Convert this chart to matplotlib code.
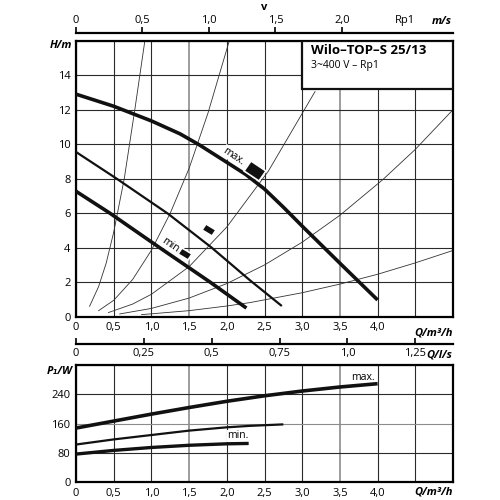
import numpy as np
import matplotlib
matplotlib.use("Agg")
import matplotlib.pyplot as plt
from matplotlib.patches import Rectangle
from matplotlib.markers import MarkerStyle
from matplotlib.transforms import Affine2D

plt.rcParams['font.family'] = ['Open Sans', 'DejaVu Sans']

# --- pump curves H(Q) ---
q_max = [0, 0.5, 1.0, 1.38, 1.64, 2.0, 2.25, 2.5, 2.75, 3.0, 3.5, 4.0]
h_max = [12.9, 12.2, 11.35, 10.6, 9.95, 8.95, 8.25, 7.4, 6.35, 5.25, 3.1, 0.97]
q_mid = [0, 0.54, 1.22, 1.8, 2.31, 2.73]
h_mid = [9.55, 8.0, 5.97, 4.0, 2.1, 0.62]
q_min = [0, 0.45, 1.11, 1.78, 2.26]
h_min = [7.27, 6.0, 4.0, 2.0, 0.5]

# system curves (thin lines)
sys_q = [
    [0.18, 0.3, 0.4, 0.5, 0.64, 0.78, 0.91],
    [0.3, 0.5, 0.75, 1.0, 1.25, 1.5, 1.75, 2.03],
    [0.43, 0.75, 1.0, 1.5, 2.0, 2.55, 3.17],
    [0.58, 1.0, 1.5, 2.0, 2.5, 3.0, 3.5, 4.07, 4.5, 5.0],
    [0.87, 1.5, 2.0, 2.31, 3.0, 3.5, 4.0, 4.5, 5.0],
]
sys_h = [
    [0.6, 1.75, 3.1, 4.9, 8.0, 12.0, 15.9],
    [0.35, 0.95, 2.15, 3.85, 6.0, 8.6, 11.8, 15.95],
    [0.24, 0.73, 1.3, 2.9, 5.2, 8.43, 13.05],
    [0.16, 0.48, 1.08, 1.92, 3.0, 4.32, 5.88, 7.95, 9.7, 12.0],
    [0.12, 0.35, 0.62, 0.82, 1.39, 1.89, 2.46, 3.12, 3.84],
]

# operating point markers
mark_q = [2.38, 1.76, 1.45]
mark_h = [8.44, 5.04, 3.61]

# --- power curves P1(Q) ---
pq_max = [0, 0.5, 1.0, 1.5, 2.0, 2.5, 3.0, 3.5, 4.0]
p_max = [148, 167, 186, 204, 221, 236, 249, 260, 269]
pq_mid = [0, 0.5, 1.0, 1.5, 2.0, 2.31, 2.75]
p_mid = [103, 117, 129, 141, 150, 154, 158]
pq_min = [0, 0.5, 1.0, 1.5, 2.0, 2.29]
p_min = [77, 87, 95, 101, 105, 106]

# axis ticks
q_ticks = [0, 0.5, 1.0, 1.5, 2.0, 2.5, 3.0, 3.5, 4.0, 4.5, 5.0]
q_labels = ['0', '0,5', '1,0', '1,5', '2,0', '2,5', '3,0', '3,5', '4,0', '', '']
h_ticks = [0, 2, 4, 6, 8, 10, 12, 14, 16]
h_labels = ['0', '2', '4', '6', '8', '10', '12', '14', '']
p_ticks = [0, 80, 160, 240, 320]
p_labels = ['0', '80', '160', '240', '']
v_ticks = [0, 0.5, 1.0, 1.5, 2.0]
v_labels = ['0', '0,5', '1,0', '1,5', '2,0']
ls_ticks = [0, 0.25, 0.5, 0.75, 1.0, 1.25]
ls_labels = ['0', '0,25', '0,5', '0,75', '1,0', '1,25']

fig = plt.figure(figsize=(5, 5), dpi=100)
ax = fig.add_axes([0.152, 0.3666, 0.754, 0.552])
ax2 = fig.add_axes([0.152, 0.0354, 0.754, 0.2346])

grid_c = '#2a2a2a'
for a in (ax, ax2):
    a.set_xlim(0, 5)
    a.set_xticks(q_ticks)
    a.set_xticklabels(q_labels)
    a.grid(True, color=grid_c, lw=0.8)
    a.set_axisbelow(True)
    a.tick_params(length=0, labelsize=8, pad=4)
    for s in a.spines.values():
        s.set_linewidth(1.6)
    # the 1,5 and 3,5 lines print lighter in the original
    for i in (3, 7):
        a.get_xgridlines()[i].set_color('#8c8c8c')
        a.get_xgridlines()[i].set_linewidth(1.2)

# top chart
ax.set_ylim(0, 16)
ax.set_yticks(h_ticks)
ax.set_yticklabels(h_labels)
for qs, hs in zip(sys_q, sys_h):
    ax.plot(qs, hs, color='#333333', lw=0.6, zorder=2)
ax.plot(q_max, h_max, color='#111111', lw=2.6, solid_capstyle='butt', zorder=3)
ax.plot(q_mid, h_mid, color='#111111', lw=1.6, solid_capstyle='butt', zorder=3)
ax.plot(q_min, h_min, color='#111111', lw=2.6, solid_capstyle='butt', zorder=3)

sizes = [8.5, 5.5, 5.5]
for q, h, s in zip(mark_q, mark_h, sizes):
    m = MarkerStyle('s', transform=Affine2D().scale(1.5, 1.0).rotate_deg(-35))
    ax.plot(q, h, marker=m, ms=s, color='#111111', mec='white', mew=1.2, zorder=4)

ax.text(2.09, 9.31, 'max.', rotation=-34, ha='center', va='center', fontsize=7.5,
        bbox=dict(fc='white', ec='none', pad=0.5), zorder=2.5)
ax.text(1.26, 4.11, 'min.', rotation=-34, ha='center', va='center', fontsize=7.5,
        bbox=dict(fc='white', ec='none', pad=0.5), zorder=2.5)

ax.add_patch(Rectangle((3.0, 13.2), 2.0, 2.8, fc='white', ec='#111111', lw=1.6, zorder=5))
ax.text(3.12, 15.45, 'Wilo–TOP–S 25/13', fontsize=9.5, fontweight='bold', va='center', zorder=6)
ax.text(3.12, 14.55, '3~400 V – Rp1', fontsize=7.5, va='center', zorder=6)

ax.text(-0.05, 15.7, 'H/m', ha='right', va='center', fontsize=8, fontweight='bold', style='italic')
ax.text(5.0, -0.6, 'Q/m³/h', ha='right', va='top', fontsize=8, fontweight='bold', style='italic')

# velocity scale on top
secv = ax.secondary_xaxis(1.029, functions=(lambda q: q * 0.567, lambda v: v / 0.567))
secv.set_xticks(v_ticks)
secv.set_xticklabels(v_labels)
secv.tick_params(direction='out', length=4, width=1.2, labelsize=8, pad=1)
for s in secv.spines.values():
    s.set_linewidth(1.6)
fig.text(264 / 500, 1 - 7 / 500, 'v', ha='center', va='center', fontsize=8, fontweight='bold')
fig.text(405 / 500, 1 - 21 / 500, 'Rp1', ha='center', va='center', fontsize=8)
fig.text(452 / 500, 1 - 21 / 500, 'm/s', ha='right', va='center', fontsize=8,
         fontweight='bold', style='italic')

# l/s scale between the charts
secl = ax.secondary_xaxis(-0.099, functions=(lambda q: q / 3.6, lambda s: s * 3.6))
secl.set_xticks(ls_ticks)
secl.set_xticklabels(ls_labels)
secl.tick_params(direction='in', length=4, width=1.2, labelsize=8, pad=3)
for s in secl.spines.values():
    s.set_linewidth(1.6)
fig.text(452 / 500, 1 - 355 / 500, 'Q/l/s', ha='right', va='center', fontsize=8,
         fontweight='bold', style='italic')

# bottom chart
ax2.set_ylim(0, 320)
ax2.set_yticks(p_ticks)
ax2.set_yticklabels(p_labels)
ax2.get_ygridlines()[2].set_color('#8c8c8c')
ax2.plot(pq_max, p_max, color='#111111', lw=2.6, solid_capstyle='butt', zorder=3)
ax2.plot(pq_mid, p_mid, color='#111111', lw=1.6, solid_capstyle='butt', zorder=3)
ax2.plot(pq_min, p_min, color='#111111', lw=2.4, solid_capstyle='butt', zorder=3)
ax2.text(3.8, 285, 'max.', ha='center', va='center', fontsize=7.5,
         bbox=dict(fc='white', ec='none', pad=0.5), zorder=2.5)
ax2.text(2.15, 127, 'min.', ha='center', va='center', fontsize=7.5,
         bbox=dict(fc='white', ec='none', pad=0.5), zorder=2.5)
ax2.text(-0.05, 301, 'P₁/W', ha='right', va='center', fontsize=8, fontweight='bold', style='italic')
ax2.text(5.0, -12, 'Q/m³/h', ha='right', va='top', fontsize=8, fontweight='bold', style='italic')

fig.savefig('out.png', dpi=100, facecolor='white')
